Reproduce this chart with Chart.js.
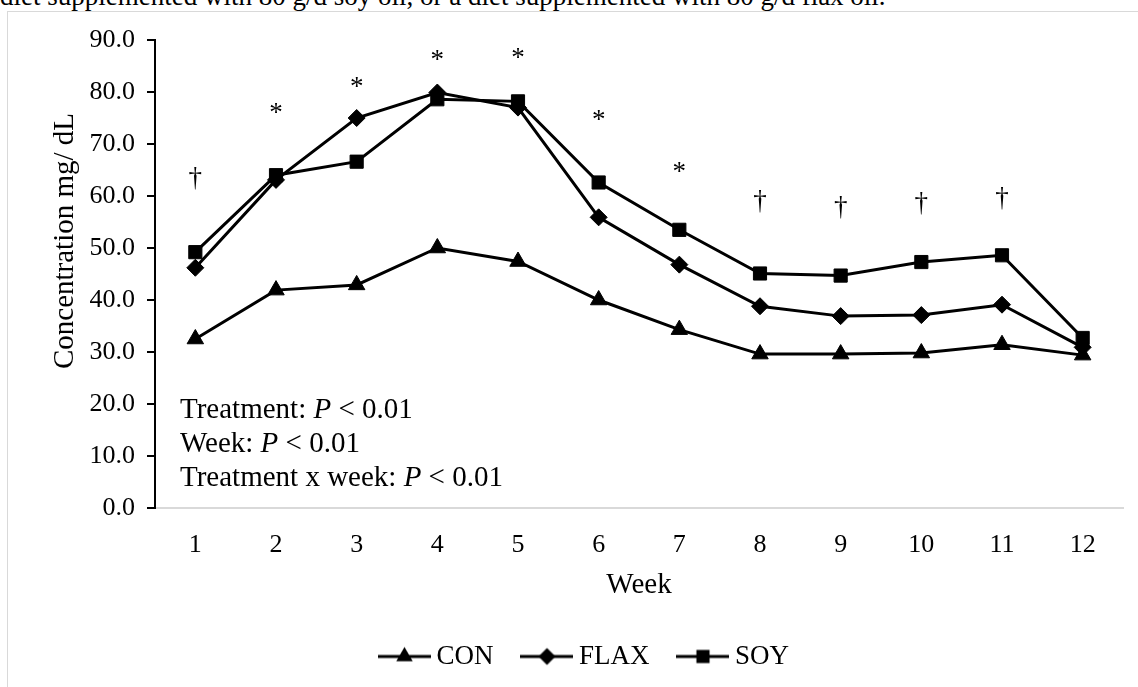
<!DOCTYPE html>
<html>
<head>
<meta charset="utf-8">
<script src="https://cdn.jsdelivr.net/npm/chart.js@4/dist/chart.umd.min.js"></script>
<style>
  html, body { margin: 0; padding: 0; background: #fff; overflow: hidden; width: 1138px; height: 687px; }
  .caption { position: absolute; left: 0; top: -17px; font: 27px "Liberation Serif", "Times New Roman", serif; line-height: 27px; white-space: nowrap; color: #000; }
  .frame { position: absolute; left: 7px; top: 11px; border: 1px solid #d9d9d9; width: 1151px; height: 690px; background: #fff; }
  canvas { display: block; }
</style>
</head>
<body>
<div class="caption">diet supplemented with 80 g/d soy oil, or a diet supplemented with 80 g/d flax oil.</div>
<div class="frame"><canvas id="grafico" width="1151" height="690"></canvas></div>
<script>
// semanas y valores
const weeks = ["1", "2", "3", "4", "5", "6", "7", "8", "9", "10", "11", "12"];
const con = [32.5, 41.9, 42.9, 50.0, 47.4, 40.0, 34.3, 29.6, 29.6, 29.8, 31.4, 29.4];
const flax = [46.2, 63.1, 75.0, 79.9, 77.0, 55.9, 46.8, 38.8, 36.9, 37.1, 39.1, 30.9];
const soy = [49.2, 64.0, 66.6, 78.6, 78.2, 62.6, 53.5, 45.1, 44.7, 47.3, 48.6, 32.7];

// marcas de significancia sobre cada semana
const sigMarks = ["†", "*", "*", "*", "*", "*", "*", "†", "†", "†", "†", ""];
const sigLevel = [63.4, 76.9, 81.9, 87.1, 87.5, 75.4, 65.4, 59.0, 57.7, 58.6, 59.6, null];

// texto de estadistica
const statTerms = ["Treatment", "Week", "Treatment x week"];
const statP = ["< 0.01", "< 0.01", "< 0.01"];

const yTicks = [0, 10, 20, 30, 40, 50, 60, 70, 80, 90];

const FONT = '"Liberation Serif", "Times New Roman", serif';
const ALTO = 690;
const PAD_BOTTOM = 22;

// icono de leyenda: linea con marcador
function iconoLeyenda(tipo, r) {
  const c = document.createElement("canvas");
  c.width = 53;
  c.height = 24;
  const g = c.getContext("2d");
  g.strokeStyle = "#000";
  g.fillStyle = "#000";
  g.lineWidth = 3;
  g.beginPath();
  g.moveTo(0, 12);
  g.lineTo(53, 12);
  g.stroke();
  g.beginPath();
  if (tipo === "triangle") {
    g.moveTo(26.5, 12 - r);
    g.lineTo(26.5 + r * 0.866, 12 + r * 0.5);
    g.lineTo(26.5 - r * 0.866, 12 + r * 0.5);
  } else if (tipo === "rectRot") {
    g.moveTo(26.5, 12 - r);
    g.lineTo(26.5 + r, 12);
    g.lineTo(26.5, 12 + r);
    g.lineTo(26.5 - r, 12);
  } else {
    const s = r * Math.SQRT1_2;
    g.rect(26.5 - s, 12 - s, 2 * s, 2 * s);
  }
  g.closePath();
  g.fill();
  return c;
}

const series = [
  { label: "CON", data: con, style: "triangle", r: 9.5, order: 3 },
  { label: "FLAX", data: flax, style: "rectRot", r: 8.5, order: 2 },
  { label: "SOY", data: soy, style: "rect", r: 9.3, order: 1 }
];

// plugin para asteriscos, titulo del eje y texto de P
const extras = {
  id: "extras",
  afterDatasetsDraw(chart) {
    const ctx = chart.ctx;
    const xs = chart.scales.x;
    const ys = chart.scales.y;
    ctx.save();
    ctx.fillStyle = "#000";
    ctx.font = "27px " + FONT;
    ctx.textAlign = "center";
    ctx.textBaseline = "alphabetic";
    for (let i = 0; i < sigMarks.length; i++) {
      if (!sigMarks[i]) continue;
      const x = xs.getPixelForValue(i);
      const y = ys.getPixelForValue(sigLevel[i]);
      const m = ctx.measureText(sigMarks[i]);
      const mid = (m.actualBoundingBoxAscent - m.actualBoundingBoxDescent) / 2;
      ctx.fillText(sigMarks[i], x, y + mid);
    }

    // titulo eje y
    ctx.save();
    ctx.font = "29px " + FONT;
    ctx.translate(57, 229);
    ctx.rotate(-Math.PI / 2);
    ctx.textBaseline = "middle";
    ctx.fillText("Concentration mg/ dL", 0, 0);
    ctx.restore();

    // lineas de estadistica
    ctx.textAlign = "left";
    ctx.textBaseline = "middle";
    for (let i = 0; i < statTerms.length; i++) {
      let x = 172;
      const y = 398 + i * 34;
      ctx.font = "29px " + FONT;
      const a = statTerms[i] + ": ";
      ctx.fillText(a, x, y);
      x += ctx.measureText(a).width;
      ctx.font = "italic 29px " + FONT;
      ctx.fillText("P", x, y);
      x += ctx.measureText("P ").width;
      ctx.font = "29px " + FONT;
      ctx.fillText(statP[i], x, y);
    }
    ctx.restore();
  }
};

new Chart(document.getElementById("grafico").getContext("2d"), {
  type: "line",
  data: {
    labels: weeks,
    datasets: series.map((s) => ({
      label: s.label,
      data: s.data,
      order: s.order,
      borderColor: "#000",
      backgroundColor: "#000",
      borderWidth: 3,
      pointStyle: s.style,
      pointRadius: s.r,
      pointHoverRadius: s.r,
      pointBackgroundColor: "#000",
      pointBorderColor: "#000",
      pointBorderWidth: 1,
      tension: 0,
      fill: false
    }))
  },
  options: {
    responsive: false,
    animation: false,
    devicePixelRatio: 1,
    layout: { padding: { left: 44, right: 36, top: 28, bottom: PAD_BOTTOM } },
    plugins: {
      tooltip: { enabled: false },
      legend: {
        position: "bottom",
        labels: {
          usePointStyle: true,
          pointStyleWidth: 37,
          padding: 35,
          color: "#000",
          font: { family: FONT, size: 27 },
          generateLabels: (chart) =>
            series.map((s, i) => ({
              text: s.label,
              datasetIndex: i,
              pointStyle: iconoLeyenda(s.style, s.r),
              fillStyle: "#000",
              strokeStyle: "#000",
              lineWidth: 0,
              hidden: false,
              fontColor: "#000"
            }))
        }
      }
    },
    scales: {
      x: {
        type: "category",
        offset: true,
        grid: { display: false, drawTicks: false },
        border: { display: true, color: "#d9d9d9", width: 2 },
        ticks: { color: "#000", padding: 22, font: { family: FONT, size: 26 } },
        title: {
          display: true,
          text: "Week",
          color: "#000",
          font: { family: FONT, size: 29 },
          padding: { top: 0, bottom: 5 }
        },
        afterFit: (scale) => {
          // el area del grafico termina en y = 496
          const lh = scale.chart.legend ? scale.chart.legend.height : 73;
          scale.height = ALTO - PAD_BOTTOM - lh - 496;
        }
      },
      y: {
        min: 0,
        max: 90,
        afterBuildTicks: (scale) => { scale.ticks = yTicks.map((v) => ({ value: v })); },
        grid: { display: true, drawOnChartArea: false, drawTicks: true, tickLength: 8, color: "#000", lineWidth: 2 },
        border: { display: true, color: "#000", width: 2 },
        ticks: {
          color: "#000",
          padding: 12,
          font: { family: FONT, size: 26 },
          callback: (v) => Number(v).toFixed(1)
        },
        afterFit: (scale) => { scale.width = 103; }
      }
    }
  },
  plugins: [extras]
});
</script>
</body>
</html>
